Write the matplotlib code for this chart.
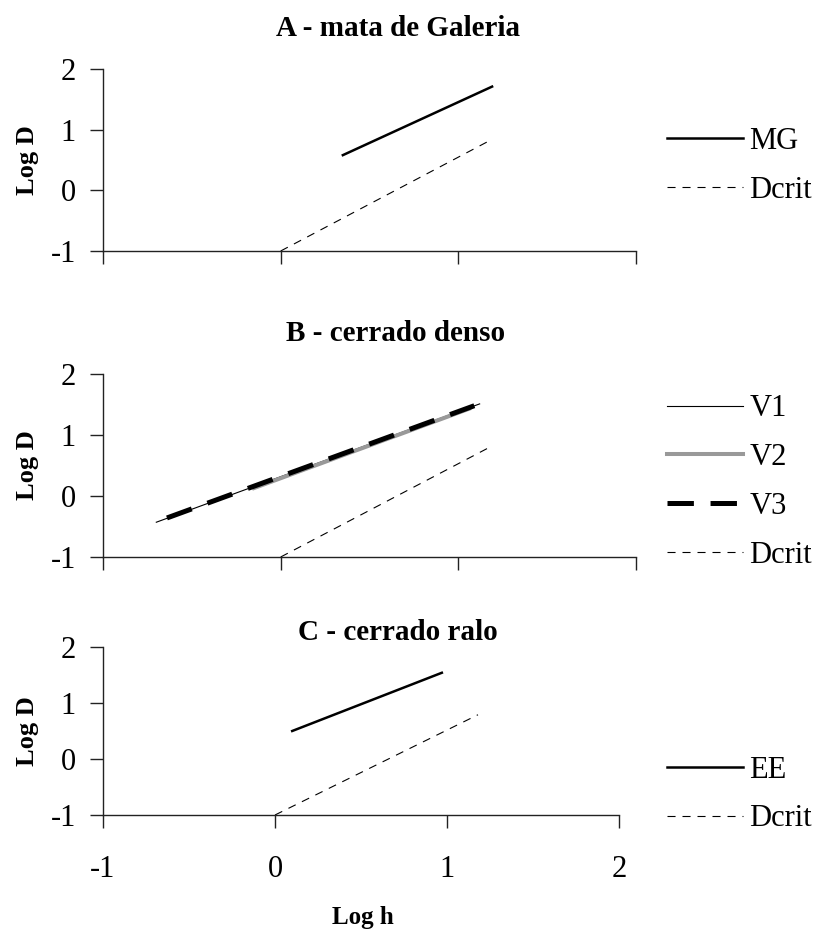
import matplotlib
matplotlib.use("Agg")
import matplotlib.pyplot as plt

plt.rcParams['font.family'] = ['Liberation Serif', 'DejaVu Serif']
plt.rcParams['lines.scale_dashes'] = False
plt.rcParams['axes.unicode_minus'] = False

# ---- data (line endpoints) ----
titles = ["A - mata de Galeria", "B - cerrado denso", "C - cerrado ralo"]
x_ticks = [-1, 0, 1, 2]
y_ticks = [-1, 0, 1, 2]

# Panel A
mg_x = [0.35, 1.19]
mg_y = [0.58, 1.71]
dcrit_a_x = [0.0, 1.17]
dcrit_a_y = [-1.0, 0.81]

# Panel B
v1_x = [-0.70, 1.12]
v1_y = [-0.43, 1.51]
v2_x = [-0.15, 1.06]
v2_y = [0.13, 1.43]
v3_x = [-0.64, 1.09]
v3_y = [-0.36, 1.48]
dcrit_b_x = [0.0, 1.17]
dcrit_b_y = [-1.0, 0.79]

# Panel C
ee_x = [0.10, 0.97]
ee_y = [0.50, 1.54]
dcrit_c_x = [0.0, 1.18]
dcrit_c_y = [-1.0, 0.79]

W, H = 815, 931
fig = plt.figure(figsize=(W / 100, H / 100), dpi=100)

def px_axes(x0, x1, ytop, ybot):
    return fig.add_axes([x0 / W, 1 - ybot / H, (x1 - x0) / W, (ybot - ytop) / H])

axA = px_axes(103, 636, 69, 251)
axB = px_axes(103, 636, 374, 557)
axC = px_axes(103, 619, 647, 815)

dcrit_style = dict(color='black', lw=0.8, dashes=(5.8, 5.0))

axA.plot(mg_x, mg_y, color='black', lw=1.8, label='MG')
axA.plot(dcrit_a_x, dcrit_a_y, label='Dcrit', **dcrit_style)

axB.plot(v1_x, v1_y, color='black', lw=0.8, label='V1')
axB.plot(v2_x, v2_y, color='#999999', lw=2.9, label='V2')
axB.plot(v3_x, v3_y, color='black', lw=3.6, dashes=(19, 12), label='V3',
         dash_capstyle='butt')
axB.plot(dcrit_b_x, dcrit_b_y, label='Dcrit', **dcrit_style)

axC.plot(ee_x, ee_y, color='black', lw=1.8, label='EE')
axC.plot(dcrit_c_x, dcrit_c_y, label='Dcrit', **dcrit_style)

title_pos = {0: (0.553, 1.225), 1: (0.549, 1.224), 2: (0.571, 1.084)}
legend_center = [166, 482, 794.5]

for i, ax in enumerate([axA, axB, axC]):
    ax.set_xlim(-1, 2)
    ax.set_ylim(-1, 2)
    ax.set_xticks(x_ticks)
    ax.set_yticks(y_ticks)
    for s in ['top', 'right']:
        ax.spines[s].set_visible(False)
    for s in ['left', 'bottom']:
        ax.spines[s].set_linewidth(1.0)
        ax.spines[s].set_color('#222222')
    ax.tick_params(axis='both', direction='out', length=9.5, width=1.0, color='#222222',
                   labelsize=22)
    ax.tick_params(axis='y', pad=10)
    ax.tick_params(axis='x', pad=19)
    if i < 2:
        ax.set_xticklabels([])
    ax.set_ylabel("Log D", fontsize=19, fontweight='bold')
    w = ax.get_position().width * W
    ax.yaxis.set_label_coords((39 - 103) / w, 0.5)
    tx, ty = title_pos[i]
    ax.text(tx, ty, titles[i], transform=ax.transAxes, ha='center', va='center',
            fontsize=21, fontweight='bold')
    ax.legend(loc='center left', bbox_to_anchor=(667 / W, 1 - legend_center[i] / H),
              bbox_transform=fig.transFigure, frameon=False, fontsize=22,
              handlelength=2.48, handletextpad=0.22, labelspacing=0.65,
              borderpad=0, borderaxespad=0)

axC.set_xlabel("Log h", fontsize=18, fontweight='bold')
axC.xaxis.set_label_coords((363 - 103) / 516, -(906 - 815) / 168)

fig.savefig("out.png", dpi=100)
